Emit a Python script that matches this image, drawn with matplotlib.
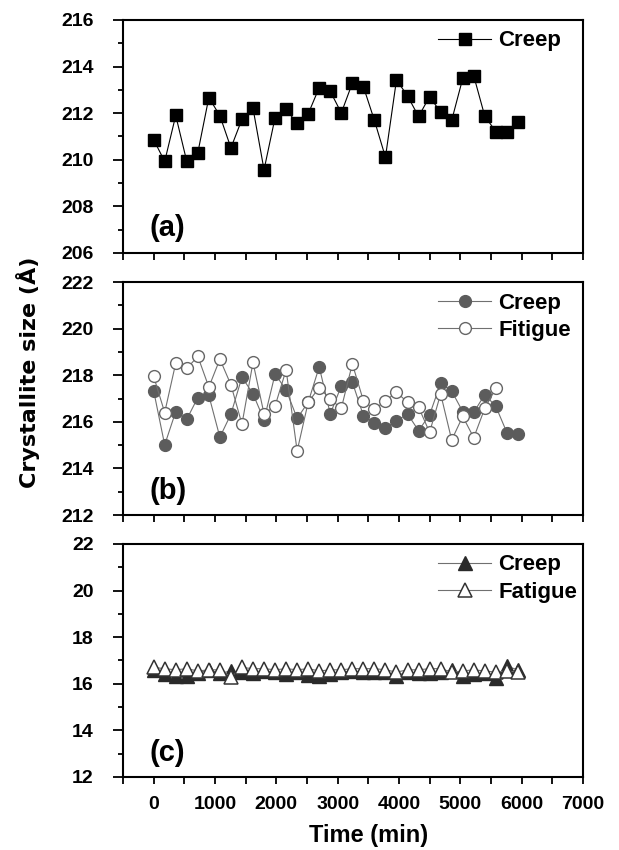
import matplotlib
matplotlib.use("Agg")
import matplotlib.pyplot as plt
from matplotlib.ticker import MultipleLocator

plt.rcParams["font.family"] = ["Liberation Sans", "DejaVu Sans"]
plt.rcParams["font.weight"] = "bold"

# sampling times (min), shared by all panels
time_min = [0, 180, 360, 540, 720, 900, 1080, 1260, 1440, 1620,
            1800, 1980, 2160, 2340, 2520, 2700, 2880, 3060, 3240, 3420,
            3600, 3780, 3960, 4140, 4320, 4500, 4680, 4860, 5040, 5220,
            5400, 5580, 5760, 5940]

# (a) creep
a_creep = [210.86, 209.93, 211.90, 209.93, 210.30, 212.67, 211.89, 210.51, 211.74, 212.21,
           209.57, 211.81, 212.16, 211.56, 211.97, 213.10, 212.94, 212.01, 213.29, 213.14,
           211.69, 210.11, 213.43, 212.74, 211.86, 212.71, 212.04, 211.69, 213.49, 213.60,
           211.87, 211.21, 211.19, 211.64]

# (b) creep / fatigue
b_creep = [217.33, 215.01, 216.44, 216.11, 217.04, 217.13, 215.34, 216.33, 217.92, 217.20,
           216.08, 218.05, 217.37, 216.15, 216.84, 218.36, 216.34, 217.54, 217.70, 216.27,
           215.94, 215.72, 216.04, 216.34, 215.62, 216.30, 217.66, 217.32, 216.44, 216.41,
           217.17, 216.66, 215.54, 215.48]
b_fatigue = [217.95, 216.40, 218.52, 218.29, 218.81, 217.49, 218.69, 217.59, 215.90, 218.55,
             216.34, 216.68, 218.23, 214.75, 216.84, 217.47, 216.97, 216.58, 218.49, 216.91,
             216.54, 216.90, 217.27, 216.84, 216.63, 215.55, 217.20, 215.22, 216.23, 215.32,
             216.58, 217.44]

# (c) creep / fatigue
c_creep = [16.60, 16.40, 16.35, 16.35, 16.45, 16.60, 16.45, 16.55, 16.50, 16.45,
           16.55, 16.50, 16.42, 16.50, 16.38, 16.35, 16.42, 16.50, 16.55, 16.50,
           16.50, 16.50, 16.35, 16.50, 16.45, 16.45, 16.50, 16.60, 16.35, 16.40,
           16.45, 16.25, 16.75, 16.60]
c_fatigue = [16.70, 16.65, 16.60, 16.65, 16.55, 16.60, 16.60, 16.30, 16.70, 16.65,
             16.65, 16.60, 16.65, 16.60, 16.65, 16.55, 16.60, 16.60, 16.65, 16.65,
             16.65, 16.60, 16.50, 16.60, 16.60, 16.65, 16.65, 16.50, 16.55, 16.60,
             16.55, 16.50, 16.55, 16.50]

fig = plt.figure(figsize=(6.19, 8.5), dpi=100)
left, width, height = 0.1987, 0.743, 0.2741
ax_a = fig.add_axes([left, 0.7024, width, height])
ax_b = fig.add_axes([left, 0.3941, width, height])
ax_c = fig.add_axes([left, 0.0859, width, height])


def style_axis(ax, ylim, label):
    ax.set_xlim(-500, 7000)
    ax.set_ylim(*ylim)
    ax.xaxis.set_major_locator(MultipleLocator(1000))
    ax.xaxis.set_minor_locator(MultipleLocator(500))
    ax.yaxis.set_major_locator(MultipleLocator(2))
    ax.yaxis.set_minor_locator(MultipleLocator(1))
    ax.tick_params(which="both", direction="out", width=1.3, top=False, right=False,
                   labelsize=14)
    ax.tick_params(axis="y", which="major", length=7, pad=14)
    ax.tick_params(axis="y", which="minor", length=3.5)
    ax.tick_params(axis="x", which="major", length=5, pad=9)
    ax.tick_params(axis="x", which="minor", length=5)
    for s in ax.spines.values():
        s.set_linewidth(1.5)
    ax.text(0.057, 0.045, label, transform=ax.transAxes, fontsize=21,
            fontweight="bold", ha="left", va="bottom")


ax_a.plot(time_min, a_creep, color="black", lw=0.8, marker="s", ms=8,
          mfc="black", mec="black", label="Creep")
style_axis(ax_a, (206, 216), "(a)")

ax_b.plot(time_min, b_creep, color="#707070", lw=0.8, marker="o", ms=8.5,
          mfc="#5c5c5c", mec="#5c5c5c", label="Creep", zorder=2)
ax_b.plot(time_min[:len(b_fatigue)], b_fatigue, color="#707070", lw=0.8, marker="o",
          ms=8.5, mfc="white", mec="#666666", mew=1.0, label="Fitigue", zorder=3)
style_axis(ax_b, (212, 222), "(b)")

ax_c.plot(time_min, c_creep, color="#707070", lw=0.8, marker="^", ms=9.5,
          mfc="#2a2a2a", mec="#2a2a2a", label="Creep", zorder=2)
ax_c.plot(time_min, c_fatigue, color="#707070", lw=0.8, marker="^", ms=9.5,
          mfc="white", mec="#333333", mew=1.1, label="Fatigue", zorder=3)
style_axis(ax_c, (12, 22), "(c)")

for ax in (ax_a, ax_b):
    ax.tick_params(axis="x", labelbottom=False)

for ax in (ax_a, ax_b, ax_c):
    ax.legend(loc="upper left", bbox_to_anchor=(0.685, 0.955), frameon=False,
              fontsize=16, handlelength=2.4, handletextpad=0.3, labelspacing=0.3,
              borderpad=0, borderaxespad=0)

ax_c.set_xlabel("Time (min)", fontsize=17, fontweight="bold")
ax_c.xaxis.set_label_coords(0.533, -0.2)

fig.text(0.045, 0.562, "Crystallite size (Å)", rotation=90, ha="center", va="center",
         fontsize=16, fontweight="bold", family="DejaVu Sans")

fig.savefig("out.png", dpi=100)
